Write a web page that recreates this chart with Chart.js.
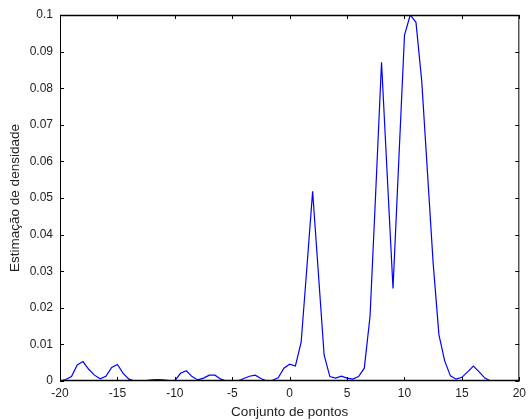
<!DOCTYPE html>
<html>
<head>
<meta charset="utf-8">
<script src="https://cdn.jsdelivr.net/npm/chart.js@4"></script>
<style>
  html, body { margin: 0; padding: 0; background: #fff; }
  #wrap { width: 531px; height: 420px; }
</style>
</head>
<body>
<div id="wrap"><canvas id="densityChart" width="531" height="420"></canvas></div>
<script>
// Pontos avaliados (passo de 0.5 entre -20 e 20)
const xPoints = [
  -20, -19.5, -19, -18.5, -18, -17.5, -17, -16.5, -16, -15.5,
  -15, -14.5, -14, -13.5, -13, -12.5, -12, -11.5, -11, -10.5,
  -10, -9.5, -9, -8.5, -8, -7.5, -7, -6.5, -6, -5.5,
  -5, -4.5, -4, -3.5, -3, -2.5, -2, -1.5, -1, -0.5,
  0, 0.5, 1, 1.5, 2, 2.5, 3, 3.5, 4, 4.5,
  5, 5.5, 6, 6.5, 7, 7.5, 8, 8.5, 9, 9.5,
  10, 10.5, 11, 11.5, 12, 12.5, 13, 13.5, 14, 14.5,
  15, 15.5, 16, 16.5, 17, 17.5, 18, 18.5, 19, 19.5, 20
];

// Estimativa da densidade em cada ponto
const densityValues = [
  0, 0.0004, 0.0012, 0.0044, 0.0053, 0.0032, 0.0016, 0.0006, 0.0013, 0.0037,
  0.0045, 0.0021, 0.0005, 0, 0, 0.0001, 0.0003, 0.0004, 0.0003, 0.0001,
  0.0001, 0.0021, 0.0028, 0.0012, 0.0003, 0.0008, 0.0016, 0.0016, 0.0005, 0,
  0, 0, 0.0007, 0.0013, 0.0016, 0.0007, 0, 0.0002, 0.0009, 0.0035,
  0.0046, 0.0041, 0.0106, 0.031, 0.0518, 0.0295, 0.0071, 0.0012, 0.0008, 0.0013,
  0.0008, 0.0005, 0.0012, 0.0035, 0.0177, 0.052, 0.0871, 0.056, 0.0253, 0.06,
  0.0945, 0.1, 0.098, 0.082, 0.057, 0.032, 0.0126, 0.0055, 0.0014, 0.0005,
  0.001, 0.0025, 0.0041, 0.0025, 0.0008, 0, 0, 0, 0, 0, 0
];

const xTicks = [-20, -15, -10, -5, 0, 5, 10, 15, 20];
const yTicks = [0, 0.01, 0.02, 0.03, 0.04, 0.05, 0.06, 0.07, 0.08, 0.09, 0.1];

const tickFont = { family: "'Liberation Sans', Arial, sans-serif", size: 12 };
const titleFont = { family: "'Liberation Sans', Arial, sans-serif", size: 13.5 };

// caixa em volta da área do gráfico com marcas de escala para dentro
const boxTicks = {
  id: "boxTicks",
  afterDraw(chart) {
    const { ctx, chartArea: a, scales } = chart;
    const len = 4;
    ctx.save();
    ctx.strokeStyle = "#000";
    ctx.lineWidth = 1;
    ctx.strokeRect(a.left + 0.5, a.top + 0.5, a.right - a.left - 1, a.bottom - a.top - 1);
    // bordas horizontais um pouco mais grossas
    ctx.lineWidth = 1.6;
    ctx.beginPath();
    ctx.moveTo(a.left, a.top + 0.5); ctx.lineTo(a.right, a.top + 0.5);
    ctx.moveTo(a.left, a.bottom - 0.5); ctx.lineTo(a.right, a.bottom - 0.5);
    ctx.stroke();
    ctx.lineWidth = 1;
    ctx.beginPath();
    xTicks.forEach((v) => {
      const px = Math.round(scales.x.getPixelForValue(v)) + 0.5;
      ctx.moveTo(px, a.bottom); ctx.lineTo(px, a.bottom - len);
      ctx.moveTo(px, a.top); ctx.lineTo(px, a.top + len);
    });
    yTicks.forEach((v) => {
      const py = Math.round(scales.y.getPixelForValue(v)) + 0.5;
      ctx.moveTo(a.left, py); ctx.lineTo(a.left + len, py);
      ctx.moveTo(a.right, py); ctx.lineTo(a.right - len, py);
    });
    ctx.stroke();
    ctx.restore();
  }
};

new Chart(document.getElementById("densityChart").getContext("2d"), {
  type: "line",
  data: {
    datasets: [{
      data: xPoints.map((x, i) => ({ x: x, y: densityValues[i] })),
      borderColor: "#0000ff",
      borderWidth: 1.2,
      pointRadius: 0,
      tension: 0,
      fill: false
    }]
  },
  options: {
    responsive: false,
    animation: false,
    layout: { padding: { top: 15, right: 7, left: 0, bottom: 0 } },
    plugins: {
      legend: { display: false },
      tooltip: { enabled: false }
    },
    scales: {
      x: {
        type: "linear",
        min: -20,
        max: 20,
        afterBuildTicks: (s) => { s.ticks = xTicks.map((v) => ({ value: v })); },
        afterFit: (s) => { s.height = 39; },
        grid: { display: false, drawTicks: false },
        border: { display: false },
        ticks: { font: tickFont, color: "#222", padding: 5, maxRotation: 0 },
        title: { display: true, text: "Conjunto de pontos", font: titleFont, color: "#222", padding: { top: 0, bottom: 0 } }
      },
      y: {
        min: 0,
        max: 0.1,
        afterBuildTicks: (s) => { s.ticks = yTicks.map((v) => ({ value: v })); },
        afterFit: (s) => { s.width = 60; },
        grid: { display: false, drawTicks: false },
        border: { display: false },
        ticks: {
          font: tickFont,
          color: "#222",
          padding: 7,
          callback: (v) => String(Number(v.toFixed(2)))
        },
        title: { display: true, text: "Estimação de densidade", font: titleFont, color: "#222", padding: { top: 7, bottom: 0 } }
      }
    }
  },
  plugins: [boxTicks]
});
</script>
</body>
</html>
